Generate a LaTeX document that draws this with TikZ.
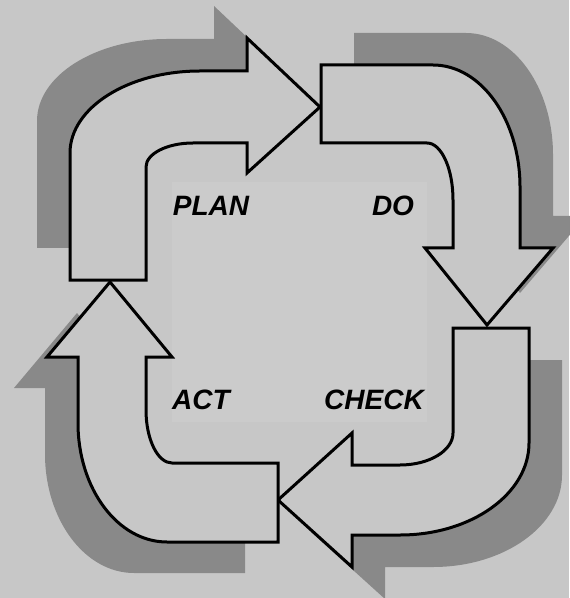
\documentclass[tikz,border=0pt]{standalone}
\usepackage{fontspec}
\usepackage{tikz}
\newfontfamily\lblfont{Liberation Sans}
\definecolor{bggray}{HTML}{C7C7C7}
\definecolor{boxgray}{HTML}{CBCBCB}
\definecolor{shadowgray}{HTML}{898989}

% outlines of the four bent arrows (pixel grid, y pointing down)
\newcommand{\planpath}{(70,280) -- (70,153) arc[start angle=180, end angle=270, x radius=130, y radius=82]
  -- (247,71) -- (247,38) -- (320,107) -- (247,173) -- (247,143) -- (193,143)
  arc[start angle=270, end angle=180, x radius=47, y radius=24] -- (146,280) -- cycle}
\newcommand{\dopath}{(321,65) -- (433,65) arc[start angle=270, end angle=360, x radius=87, y radius=122]
  -- (520,248) -- (553,248) -- (487,325) -- (425,248) -- (453,248) -- (453,200)
  arc[start angle=0, end angle=-90, x radius=26, y radius=57] -- (321,143) -- cycle}
\newcommand{\checkpath}{(529,328) -- (529,443) arc[start angle=0, end angle=90, x radius=129, y radius=92]
  -- (352,535) -- (352,567) -- (278,500) -- (352,433) -- (352,465) -- (400,465)
  arc[start angle=90, end angle=0, x radius=53, y radius=32] -- (453,328) -- cycle}
\newcommand{\actpath}{(278,542) -- (167,542) arc[start angle=90, end angle=180, x radius=89, y radius=119]
  -- (78,357) -- (47,357) -- (110,282) -- (172,357) -- (146,357) -- (146,410)
  arc[start angle=180, end angle=90, x radius=26, y radius=53] -- (278,463) -- cycle}

\begin{document}
\begin{tikzpicture}[x=0.5pt, y=-0.5pt,
    arrowshadow/.style={fill=shadowgray},
    cyclearrow/.style={fill=bggray, draw=black, line width=1.5pt, line join=miter},
    lbl/.style={font={\lblfont\bfseries\itshape\fontsize{14}{17}\selectfont}, inner sep=0pt}]
  \fill[bggray] (0,0) rectangle (569,598);
  \useasboundingbox (0,0) rectangle (569,598);
  \fill[boxgray] (172,182) rectangle (427,422);
  % shadows
  \fill[arrowshadow, shift={(-33,-32)}] \planpath;
  \fill[arrowshadow, shift={(33,-32)}] \dopath;
  \fill[arrowshadow, shift={(33,32)}] \checkpath;
  \fill[arrowshadow, shift={(-33,31)}] \actpath;
  % arrows
  \filldraw[cyclearrow] \planpath;
  \filldraw[cyclearrow] \dopath;
  \filldraw[cyclearrow] \checkpath;
  \filldraw[cyclearrow] \actpath;
  % labels
  \node[lbl] (plan) at (211,206) {PLAN};
  \node[lbl] (do) at (393,206) {DO};
  \node[lbl] (act) at (201,400) {ACT};
  \node[lbl] (check) at (374,400) {CHECK};
\end{tikzpicture}
\end{document}
